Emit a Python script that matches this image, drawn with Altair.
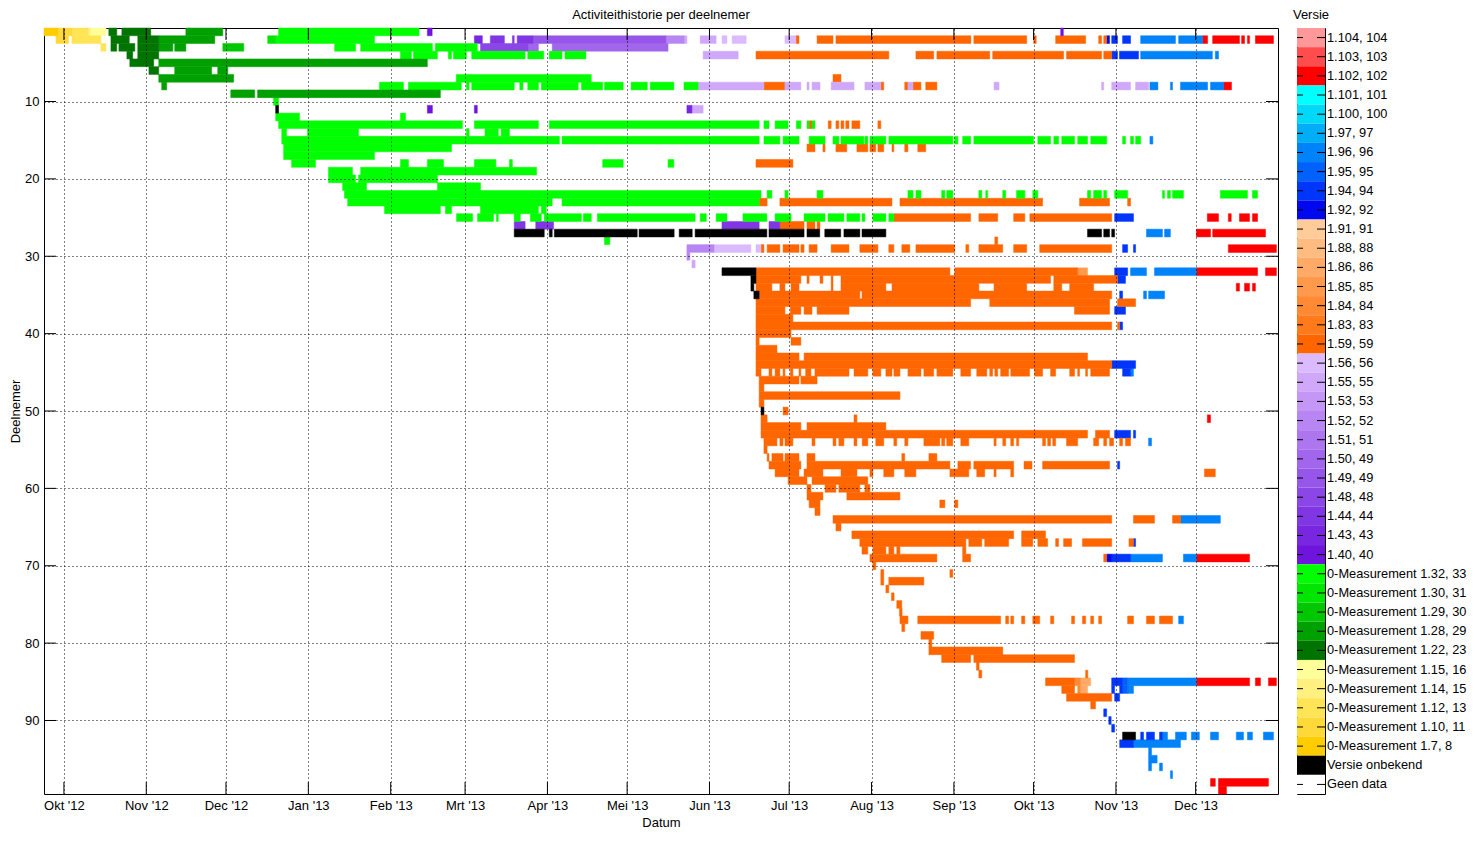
import altair as alt
import pandas as pd

FONT = "Liberation Sans"
BASE_DATE = pd.Timestamp("2012-10-01")   # day 0 of the segment lists

# ---- legend categories (top to bottom) and their colours ----
VERSIONS = [
    "1.104, 104", "1.103, 103", "1.102, 102", "1.101, 101", "1.100, 100",
    "1.97, 97", "1.96, 96", "1.95, 95", "1.94, 94", "1.92, 92",
    "1.91, 91", "1.88, 88", "1.86, 86", "1.85, 85", "1.84, 84", "1.83, 83",
    "1.59, 59", "1.56, 56", "1.55, 55", "1.53, 53", "1.52, 52", "1.51, 51",
    "1.50, 49", "1.49, 49", "1.48, 48", "1.44, 44", "1.43, 43", "1.40, 40",
    "0-Measurement 1.32, 33", "0-Measurement 1.30, 31", "0-Measurement 1.29, 30",
    "0-Measurement 1.28, 29", "0-Measurement 1.22, 23", "0-Measurement 1.15, 16",
    "0-Measurement 1.14, 15", "0-Measurement 1.12, 13", "0-Measurement 1.10, 11",
    "0-Measurement 1.7, 8", "Versie onbekend", "Geen data",
]
COLORS = [
    "#FF9898", "#FF4D4D", "#FF0000", "#00FFFF", "#00D8F8",
    "#00AEF8", "#0082F8", "#0062FA", "#0036FA", "#0008F0",
    "#FFCC99", "#FFBB80", "#FFAA66", "#FF9A4D", "#FF8A33", "#FF7A1A",
    "#FF6600", "#DCBAFF", "#D0A8FA", "#C496F5", "#B886F2", "#AD76EF",
    "#A166EC", "#9656E9", "#8B46E6", "#8036E3", "#7826E0", "#6E14DD",
    "#00FF00", "#00E600", "#00C800", "#00A000", "#007400", "#FFFF99",
    "#FFF080", "#FFE455", "#FFD83A", "#FFCC00", "#000000", "#FFFFFF",
]

# ---- axis tick values ----
TICK_MONTHS = [(2012, 10), (2012, 11), (2012, 12), (2013, 1), (2013, 2), (2013, 3),
               (2013, 4), (2013, 5), (2013, 6), (2013, 7), (2013, 8), (2013, 9),
               (2013, 10), (2013, 11), (2013, 12)]
MONTH_NAMES = ["Jan", "Feb", "Mrt", "Apr", "Mei", "Jun", "Jul", "Aug", "Sep", "Okt", "Nov", "Dec"]
Y_TICKS = [10, 20, 30, 40, 50, 60, 70, 80, 90]

# ---- activity segments per version: (participant, first day, end day), days since 2012-10-01 ----
V1_102 = [
    (2, 428.6, 430.5), (2, 432.4, 442.5), (2, 443.3, 444.4), (2, 445.5, 446.3), (2, 448.5, 455.3),
    (8, 436.5, 439.5),
    (25, 430.4, 434.6), (25, 438.3, 439.4), (25, 442.5, 446.3), (25, 447.4, 449.3),
    (27, 426.3, 431.6), (27, 432.4, 452.3),
    (29, 438.3, 456.4),
    (32, 426.3, 449.3), (32, 452.3, 456.4),
    (34, 441.3, 442.5), (34, 444.4, 446.3), (34, 447.4, 448.5),
    (51, 430.4, 431.6),
    (69, 426.3, 446.3),
    (85, 426.3, 446.3), (85, 448.5, 450.4), (85, 453.4, 456.4),
    (98, 431.6, 433.4), (98, 434.6, 453.4),
    (99, 434.6, 437.6),
]
V1_96 = [
    (2, 405.3, 418.4), (2, 419.6, 428.6),
    (4, 405.3, 432.3), (4, 433.4, 434.6),
    (8, 408.8, 411.8), (8, 416.5, 417.3), (8, 420.3, 430.5), (8, 431.6, 436.5),
    (15, 408.8, 409.9),
    (27, 407.5, 413.5), (27, 414.3, 416.5),
    (32, 401.5, 407.5), (32, 410.5, 426.3),
    (35, 406.4, 407.5), (35, 408.3, 414.3),
    (45, 401.5, 402.6),
    (54, 408.3, 409.4),
    (64, 420.3, 435.3),
    (69, 401.5, 413.5), (69, 421.4, 426.3),
    (77, 419.6, 421.4),
    (85, 400.4, 426.3),
    (86, 400.4, 402.6),
    (92, 413.5, 415.4), (92, 418.4, 422.5), (92, 424.4, 427.4), (92, 431.6, 434.6),
    (92, 441.3, 444.0), (92, 445.5, 447.4), (92, 451.5, 455.3),
    (93, 402.6, 420.3),
    (94, 408.3, 409.4), (95, 408.3, 411.5), (96, 408.3, 409.4), (96, 412.4, 413.5), (97, 416.5, 417.3),
]
V1_95 = [(85, 398.5, 400.4), (86, 398.5, 400.4)]
V1_94 = [
    (2, 394.4, 396.6), (2, 398.5, 401.5),
    (4, 394.4, 396.6), (4, 397.3, 404.5),
    (25, 395.5, 402.6),
    (29, 398.5, 400.4), (29, 402.6, 403.4),
    (32, 395.5, 400.4),
    (33, 396.6, 399.6),
    (35, 397.4, 398.5),
    (37, 395.5, 399.6),
    (39, 397.4, 398.5),
    (44, 394.4, 403.4),
    (45, 398.5, 401.5),
    (53, 395.5, 401.5), (53, 402.6, 403.4),
    (57, 396.6, 397.4),
    (67, 402.6, 403.4),
    (69, 394.4, 401.5),
    (85, 394.4, 398.5),
    (86, 394.4, 395.5), (86, 397.4, 398.5),
    (87, 395.5, 397.4),
    (89, 391.4, 392.5), (90, 393.3, 394.2), (91, 394.4, 395.5),
    (92, 405.3, 406.4), (92, 407.5, 410.5), (92, 412.4, 413.5),
    (93, 397.4, 402.6),
]
V1_92 = [(2, 392.5, 393.6), (69, 392.5, 394.4)]
V1_86 = [(85, 382.6, 386.5), (86, 382.6, 385.3)]
V1_85 = [(32, 381.6, 385.3)]
V1_84 = [(85, 380.4, 382.6), (86, 381.6, 382.6)]
V1_59 = [
    (2, 275.5, 276.7), (2, 283.5, 289.5), (2, 290.6, 341.4), (2, 342.5, 362.4), (2, 365.0, 366.0),
    (2, 373.3, 384.6), (2, 389.5, 390.6), (2, 391.4, 392.5),
    (4, 260.5, 310.5), (4, 320.7, 327.4), (4, 328.6, 348.5), (4, 349.6, 376.3), (4, 377.4, 390.6), (4, 391.4, 394.4),
    (7, 289.5, 292.5),
    (8, 263.5, 271.4), (8, 307.5, 308.6), (8, 316.5, 317.7), (8, 319.6, 322.6), (8, 324.4, 328.6),
    (13, 280.5, 281.6), (13, 287.7, 288.8), (13, 290.6, 291.7), (13, 292.5, 293.6), (13, 294.3, 295.5),
    (13, 296.6, 299.6), (13, 306.4, 307.5),
    (16, 279.7, 282.7), (16, 285.7, 286.5), (16, 290.6, 294.7), (16, 298.5, 302.6), (16, 303.4, 305.6),
    (16, 306.4, 308.6), (16, 311.7, 312.4), (16, 316.5, 317.7), (16, 321.4, 324.4),
    (18, 260.5, 274.4),
    (23, 261.7, 264.7), (23, 269.5, 311.7), (23, 314.7, 368.4), (23, 382.3, 393.6), (23, 400.4, 401.5),
    (25, 312.4, 341.3), (25, 344.4, 351.5), (25, 357.5, 361.7), (25, 363.6, 394.4),
    (26, 269.5, 278.6), (26, 279.7, 282.7), (26, 283.5, 284.6),
    (28, 350.4, 351.5),
    (29, 262.4, 263.5), (29, 264.7, 269.5), (29, 270.7, 276.7), (29, 277.4, 278.6), (29, 280.5, 283.5),
    (29, 288.8, 295.5), (29, 299.6, 306.4), (29, 310.5, 312.4), (29, 315.4, 318.4), (29, 320.7, 335.3),
    (29, 339.5, 340.6), (29, 344.4, 353.4), (29, 357.5, 362.4), (29, 367.3, 394.4),
    (32, 260.5, 333.5), (32, 335.3, 381.6),
    (33, 260.5, 277.4), (33, 279.7, 280.5), (33, 284.6, 285.7), (33, 288.8, 289.5), (33, 292.5, 371.4),
    (33, 372.6, 396.6),
    (34, 260.5, 266.5), (34, 269.5, 271.4), (34, 273.7, 276.7), (34, 288.8, 289.5), (34, 292.5, 309.4),
    (34, 311.7, 344.4), (34, 350.1, 362.4), (34, 372.6, 375.6), (34, 378.6, 387.6),
    (35, 261.7, 299.6), (35, 300.4, 394.4),
    (36, 260.5, 341.3), (36, 348.5, 393.6), (36, 396.6, 403.4),
    (37, 260.5, 271.4), (37, 273.4, 277.4), (37, 278.6, 281.6), (37, 283.5, 295.5), (37, 380.4, 393.6),
    (38, 260.5, 274.4),
    (39, 260.5, 394.4), (39, 396.6, 397.4),
    (40, 260.5, 273.7),
    (41, 260.5, 261.7), (41, 273.7, 277.4),
    (42, 260.5, 268.4),
    (43, 260.5, 276.7), (43, 278.6, 385.3),
    (44, 260.5, 394.4),
    (45, 260.5, 262.4), (45, 265.4, 266.5), (45, 267.7, 269.5), (45, 270.7, 271.4), (45, 273.4, 274.4),
    (45, 276.7, 277.4), (45, 279.2, 281.2), (45, 282.7, 295.5), (45, 297.4, 302.6), (45, 304.5, 307.5),
    (45, 309.4, 311.7), (45, 312.4, 314.7), (45, 317.7, 322.6), (45, 323.7, 327.4), (45, 328.6, 334.6),
    (45, 337.6, 341.3), (45, 343.6, 347.4), (45, 348.5, 349.6), (45, 350.4, 351.5), (45, 352.6, 355.6),
    (45, 356.4, 363.5), (45, 365.4, 368.4), (45, 371.4, 373.3), (45, 378.6, 380.4), (45, 381.6, 382.3),
    (45, 384.6, 385.3), (45, 386.5, 393.6),
    (46, 261.7, 276.7), (46, 277.4, 283.5),
    (47, 261.7, 263.5),
    (48, 261.7, 314.7),
    (49, 261.7, 263.5),
    (50, 270.7, 272.6),
    (51, 262.4, 264.7), (51, 297.4, 298.5),
    (52, 262.4, 277.4), (52, 279.7, 309.4),
    (53, 262.4, 385.3), (53, 388.3, 393.6),
    (54, 263.5, 268.4), (54, 269.5, 270.7), (54, 271.4, 274.4), (54, 281.6, 282.7), (54, 289.5, 290.6),
    (54, 291.7, 293.6), (54, 297.4, 298.5), (54, 300.5, 302.6), (54, 305.6, 308.6), (54, 312.4, 313.5),
    (54, 316.5, 317.7), (54, 323.7, 329.7), (54, 330.4, 331.6), (54, 332.3, 334.6), (54, 337.6, 340.6),
    (54, 350.1, 350.9), (54, 353.4, 354.5), (54, 356.4, 357.5), (54, 358.6, 359.4), (54, 368.4, 369.5),
    (54, 370.3, 371.4), (54, 372.2, 373.3), (54, 377.4, 381.6), (54, 387.6, 389.5), (54, 391.4, 392.5),
    (54, 393.6, 395.1), (54, 397.4, 398.5), (54, 399.6, 401.5),
    (55, 263.5, 264.7),
    (56, 264.7, 265.4), (56, 266.5, 270.7), (56, 271.4, 276.7), (56, 279.7, 282.7), (56, 315.4, 316.5),
    (56, 325.6, 328.6),
    (57, 265.4, 277.4), (57, 279.7, 333.5), (57, 336.5, 341.3), (57, 342.5, 357.5), (57, 361.4, 364.4),
    (57, 368.4, 393.6),
    (58, 267.7, 276.7), (58, 278.6, 285.7), (58, 292.5, 298.5), (58, 303.4, 304.5), (58, 308.6, 312.4),
    (58, 316.5, 320.7), (58, 333.5, 340.6), (58, 343.6, 346.6), (58, 350.1, 350.9), (58, 356.4, 357.5),
    (58, 429.3, 433.4),
    (59, 272.6, 279.7), (59, 281.6, 302.6),
    (60, 279.7, 281.2), (60, 286.5, 290.6), (60, 291.7, 299.6), (60, 301.5, 303.4),
    (61, 279.7, 285.7), (61, 294.7, 314.7),
    (62, 280.5, 284.6), (62, 329.7, 331.6), (62, 335.3, 336.5),
    (63, 282.7, 284.6),
    (64, 289.5, 394.4), (64, 402.6, 410.5), (64, 417.3, 420.3),
    (65, 290.6, 292.5),
    (66, 296.6, 357.5), (66, 360.5, 369.5),
    (67, 299.6, 339.5), (67, 340.6, 345.5), (67, 346.6, 355.6), (67, 360.5, 364.7), (67, 366.6, 370.3),
    (67, 373.3, 374.4), (67, 376.3, 379.3), (67, 383.4, 394.4), (67, 400.9, 402.6),
    (68, 300.4, 302.6), (68, 304.5, 309.4), (68, 310.5, 312.4), (68, 313.5, 314.7), (68, 338.3, 339.5),
    (69, 303.4, 328.6), (69, 338.3, 341.3), (69, 391.4, 392.5),
    (70, 304.5, 305.6),
    (71, 307.5, 308.6), (71, 333.5, 334.6),
    (72, 307.5, 308.6), (72, 310.5, 323.7),
    (73, 309.4, 310.5),
    (74, 311.5, 312.5),
    (75, 313.5, 315.4),
    (76, 314.5, 315.5),
    (77, 314.7, 317.7), (77, 321.4, 352.6), (77, 354.5, 355.6), (77, 356.4, 357.5), (77, 360.5, 361.7),
    (77, 364.7, 367.3), (77, 371.4, 372.6), (77, 379.3, 380.4), (77, 383.4, 384.6), (77, 386.5, 387.6),
    (77, 389.5, 390.6), (77, 400.4, 402.6), (77, 407.5, 410.5), (77, 412.4, 417.3),
    (78, 315.4, 316.5),
    (79, 322.6, 327.4),
    (80, 325.6, 326.7),
    (81, 325.6, 353.4),
    (82, 330.4, 341.3), (82, 342.5, 380.4),
    (83, 343.5, 344.5),
    (84, 344.4, 345.5), (84, 384.6, 385.4),
    (85, 369.5, 380.4),
    (86, 375.6, 380.4),
    (87, 377.4, 394.4),
    (88, 386.5, 388.3),
]
V1_56 = [(2, 247.7, 249.6), (2, 251.5, 256.8), (2, 271.4, 275.5), (29, 244.7, 258.6), (29, 260.5, 262.4)]
V1_55 = [
    (2, 233.4, 234.5), (2, 239.5, 245.5),
    (4, 240.6, 253.8),
    (8, 238.7, 263.5), (8, 271.4, 277.4), (8, 279.7, 280.5), (8, 281.6, 284.6), (8, 288.8, 297.4),
    (8, 301.5, 307.5), (8, 317.7, 319.6), (8, 350.1, 352.0), (8, 390.6, 391.4), (8, 394.4, 401.5),
    (8, 403.4, 408.3),
    (11, 236.4, 240.6),
    (31, 236.4, 237.6),
]
V1_52 = [(2, 226.6, 233.4), (29, 234.5, 244.7), (30, 234.5, 235.6)]
V1_50 = [(3, 174.8, 178.6), (3, 183.8, 227.4)]
V1_49 = [(2, 176.6, 226.6)]
V1_48 = [(3, 156.8, 174.8)]
V1_44 = [(2, 160.5, 165.8), (2, 168.8, 169.5), (2, 170.6, 176.6),
         (26, 169.5, 173.6), (26, 177.6, 184.3), (26, 247.7, 261.7), (26, 265.4, 269.5)]
V1_43 = [(2, 154.5, 157.5), (11, 234.5, 236.4)]
V1_40 = [(1, 136.8, 138.6), (1, 375.2, 376.2), (11, 136.8, 138.7), (11, 154.5, 155.6)]
M1_32 = [
    (1, 80.8, 133.7),
    (2, 79.7, 116.9),
    (3, 101.9, 109.8), (3, 111.7, 138.7), (3, 139.8, 155.6),
    (4, 126.7, 130.8), (4, 131.6, 140.6), (4, 144.7, 145.9), (4, 146.6, 151.5), (4, 153.5, 173.6),
    (4, 174.6, 180.6), (4, 182.7, 187.5), (4, 188.6, 196.5),
    (7, 147.7, 198.5),
    (8, 118.8, 127.8), (8, 129.7, 149.6), (8, 151.5, 152.5), (8, 153.5, 169.5), (8, 171.6, 172.8),
    (8, 174.6, 178.6), (8, 179.7, 193.6), (8, 194.8, 202.8), (8, 203.5, 210.5), (8, 213.5, 219.6),
    (8, 220.7, 229.6), (8, 233.4, 238.7),
    (10, 78.9, 80.8),
    (12, 79.7, 88.7), (12, 126.7, 128.6),
    (13, 80.8, 150.0), (13, 154.5, 178.6), (13, 182.7, 261.7), (13, 263.5, 265.4), (13, 267.7, 272.6),
    (13, 275.7, 277.4), (13, 279.7, 280.5), (13, 281.6, 282.7),
    (14, 82.0, 83.8), (14, 91.7, 110.9), (14, 151.5, 152.5), (14, 158.5, 163.5), (14, 164.6, 167.7),
    (15, 82.0, 186.5), (15, 187.5, 261.7), (15, 263.5, 269.5), (15, 270.7, 276.7), (15, 280.5, 286.5),
    (15, 289.5, 291.7), (15, 292.5, 301.1), (15, 301.5, 302.6), (15, 303.4, 309.4), (15, 310.5, 334.6),
    (15, 335.3, 336.5), (15, 338.3, 341.3), (15, 342.5, 365.0), (15, 366.6, 371.4), (15, 372.6, 374.4),
    (15, 375.6, 380.4), (15, 381.6, 385.3), (15, 386.5, 392.5), (15, 398.5, 399.6), (15, 401.5, 402.6),
    (15, 403.4, 405.3),
    (16, 82.7, 145.9),
    (17, 82.7, 116.9),
    (18, 85.7, 94.7), (18, 126.7, 129.7), (18, 136.8, 142.9), (18, 154.5, 162.6), (18, 167.7, 168.8),
    (18, 202.8, 210.5), (18, 227.4, 229.6),
    (19, 99.6, 108.6), (19, 111.7, 177.9),
    (20, 99.6, 109.8), (20, 110.9, 140.6),
    (21, 104.9, 113.9), (21, 140.6, 156.8),
    (22, 105.6, 262.4), (22, 264.7, 266.5), (22, 271.4, 272.6), (22, 283.5, 285.7), (22, 317.7, 319.6),
    (22, 320.7, 322.6), (22, 330.4, 331.6), (22, 332.3, 334.6), (22, 344.4, 345.5), (22, 347.0, 347.7),
    (22, 353.4, 354.5), (22, 358.6, 361.7), (22, 364.7, 366.6), (22, 385.3, 386.5), (22, 387.6, 390.6),
    (22, 391.4, 392.5), (22, 395.5, 400.4), (22, 413.5, 414.3), (22, 415.4, 416.5), (22, 417.3, 421.4),
    (22, 435.3, 445.5), (22, 447.4, 449.3),
    (23, 106.8, 183.8), (23, 187.5, 261.7),
    (24, 120.7, 141.7), (24, 143.6, 145.9), (24, 156.8, 178.6), (24, 179.7, 181.6),
    (25, 147.8, 153.8), (25, 155.7, 161.7), (25, 162.8, 163.5), (25, 169.5, 171.8), (25, 175.6, 179.7),
    (25, 180.8, 194.8), (25, 195.5, 198.5), (25, 200.8, 237.6), (25, 239.5, 241.8), (25, 245.5, 249.6),
    (25, 255.6, 264.6), (25, 267.7, 273.7), (25, 278.6, 286.5), (25, 287.6, 293.6), (25, 294.7, 299.6),
    (25, 300.4, 301.5), (25, 304.5, 309.4), (25, 310.5, 312.4),
    (28, 203.5, 205.5),
]
M1_30 = [(2, 76.7, 79.7)]
M1_29 = [(3, 59.8, 67.7)]
M1_28 = [(1, 45.9, 59.8), (2, 35.7, 56.8), (3, 35.7, 41.0), (3, 41.7, 45.9), (5, 35.7, 136.8),
         (6, 41.7, 55.6), (6, 57.9, 61.7), (7, 35.7, 63.9), (8, 36.8, 38.7), (9, 62.8, 71.8),
         (9, 72.9, 141.7)]
M1_22 = [(1, 16.9, 19.9), (1, 21.8, 32.7), (2, 17.7, 24.6), (2, 27.8, 35.7), (3, 17.7, 19.9),
         (3, 20.7, 26.7), (3, 27.8, 35.7), (4, 23.7, 25.9), (4, 27.8, 35.7), (5, 24.8, 33.8),
         (6, 32.0, 35.7)]
M1_15 = [(1, 9.9, 15.8)]
M1_14 = [(1, 9.0, 9.9)]
M1_12 = [(1, 3.0, 9.0), (2, 3.0, 13.9), (3, 13.9, 15.8)]
M1_10 = [(1, -2.25, 3.0), (2, -3.0, 1.75)]
M1_7 = [(1, -7.5, -2.25)]
UNKNOWN = [
    (11, 79.7, 80.8),
    (27, 169.5, 180.8), (27, 182.7, 183.8), (27, 184.6, 215.8), (27, 216.5, 229.7), (27, 231.6, 236.5),
    (27, 237.6, 264.6), (27, 265.4, 278.6), (27, 279.7, 284.5), (27, 286.4, 292.4), (27, 293.6, 299.6),
    (27, 300.4, 309.4), (27, 385.3, 390.6), (27, 391.4, 393.6), (27, 394.4, 395.5),
    (32, 247.7, 260.5),
    (33, 258.6, 260.5),
    (34, 258.6, 259.7),
    (35, 259.7, 261.7),
    (50, 262.4, 263.5),
    (92, 398.5, 403.4),
]

SERIES = [
    ("1.102, 102", V1_102), ("1.96, 96", V1_96), ("1.95, 95", V1_95), ("1.94, 94", V1_94),
    ("1.92, 92", V1_92), ("1.86, 86", V1_86), ("1.85, 85", V1_85), ("1.84, 84", V1_84),
    ("1.59, 59", V1_59), ("1.56, 56", V1_56), ("1.55, 55", V1_55), ("1.52, 52", V1_52),
    ("1.50, 49", V1_50), ("1.49, 49", V1_49), ("1.48, 48", V1_48), ("1.44, 44", V1_44),
    ("1.43, 43", V1_43), ("1.40, 40", V1_40),
    ("0-Measurement 1.32, 33", M1_32), ("0-Measurement 1.30, 31", M1_30),
    ("0-Measurement 1.29, 30", M1_29), ("0-Measurement 1.28, 29", M1_28),
    ("0-Measurement 1.22, 23", M1_22), ("0-Measurement 1.15, 16", M1_15),
    ("0-Measurement 1.14, 15", M1_14), ("0-Measurement 1.12, 13", M1_12),
    ("0-Measurement 1.10, 11", M1_10), ("0-Measurement 1.7, 8", M1_7),
    ("Versie onbekend", UNKNOWN),
]

records = []
for name, segs in SERIES:
    for p, s, e in segs:
        records.append({
            "deelnemer": p, "y0": p - 0.5, "y1": p + 0.5,
            "start": BASE_DATE + pd.Timedelta(days=s),
            "end": BASE_DATE + pd.Timedelta(days=e),
            "versie": name,
        })
cells = pd.DataFrame(records)

W, H = 1234, 766
color_scale = alt.Scale(domain=VERSIONS, range=COLORS)
x_scale = alt.Scale(domain=[alt.DateTime(year=2012, month=9, date=23, hours=12),
                            alt.DateTime(year=2014, month=1, date=1)], nice=False)
y_scale = alt.Scale(domain=[0.5, 99.5], reverse=True, nice=False, zero=False)

label_expr = ("[" + ",".join(f"'{m}'" for m in MONTH_NAMES) + "][month(datum.value)]"
              " + \" '\" + timeFormat(datum.value, '%y')")
tick_dates = [alt.DateTime(year=y, month=m, date=1) for y, m in TICK_MONTHS]

common_axis = dict(grid=True, gridDash=[1, 3], gridColor="black", gridOpacity=1, gridWidth=1,
                   ticks=False, domain=False, zindex=1, labelFont=FONT, titleFont=FONT,
                   labelFontSize=13, titleFontSize=13, labelColor="black", titleColor="black",
                   titleFontWeight="normal")
x_axis = alt.Axis(values=tick_dates, labelExpr=label_expr, title="Datum", labelPadding=5,
                  titlePadding=4, labelFlush=False, labelOverlap=False, **common_axis)
y_axis = alt.Axis(values=Y_TICKS, title="Deelnemer", labelPadding=5, titlePadding=2.5, **common_axis)

rects = alt.Chart(cells).mark_rect(strokeWidth=0.5).encode(
    x=alt.X("start:T", scale=x_scale, axis=x_axis),
    x2="end:T",
    y=alt.Y("y0:Q", scale=y_scale, axis=y_axis),
    y2="y1:Q",
    color=alt.Color("versie:N", scale=color_scale, legend=None),
    stroke=alt.Stroke("versie:N", scale=color_scale, legend=None),
)

ytick_df = pd.DataFrame({"v": Y_TICKS})
xtick_df = pd.DataFrame({"d": [pd.Timestamp(y, m, 1) for y, m in TICK_MONTHS]})

ytl = alt.Chart(ytick_df).mark_rule(color="black").encode(
    y=alt.Y("v:Q", scale=y_scale, axis=y_axis), x=alt.value(0), x2=alt.value(12))
ytr = alt.Chart(ytick_df).mark_rule(color="black").encode(
    y=alt.Y("v:Q", scale=y_scale, axis=y_axis), x=alt.value(W - 12), x2=alt.value(W))
xtb = alt.Chart(xtick_df).mark_rule(color="black").encode(
    x=alt.X("d:T", scale=x_scale, axis=x_axis), y=alt.value(H - 12), y2=alt.value(H))
xtt = alt.Chart(xtick_df).mark_rule(color="black").encode(
    x=alt.X("d:T", scale=x_scale, axis=x_axis), y=alt.value(0), y2=alt.value(12))

main = alt.layer(rects, ytl, ytr, xtb, xtt).properties(
    width=W, height=H,
    title=alt.TitleParams("Activiteithistorie per deelnemer", anchor="middle", frame="group",
                          offset=6, fontSize=13, fontWeight="normal", font=FONT, color="black"),
)

# ---- colour bar legend ----
leg_df = pd.DataFrame({"versie": VERSIONS})
band = alt.Scale(domain=VERSIONS, paddingInner=0, paddingOuter=0)
bar = alt.Chart(leg_df).mark_rect().encode(
    y=alt.Y("versie:N", scale=band, axis=None, sort=VERSIONS),
    x=alt.value(0), x2=alt.value(28),
    color=alt.Color("versie:N", scale=color_scale, legend=None),
)
ltick_l = alt.Chart(leg_df).mark_rule(color="black").encode(
    y=alt.Y("versie:N", scale=band, axis=None, sort=VERSIONS, bandPosition=0.5),
    x=alt.value(0), x2=alt.value(6))
ltick_r = alt.Chart(leg_df).mark_rule(color="black").encode(
    y=alt.Y("versie:N", scale=band, axis=None, sort=VERSIONS, bandPosition=0.5),
    x=alt.value(20), x2=alt.value(28))
ltext = alt.Chart(leg_df).mark_text(align="left", baseline="middle", fontSize=12.8, font=FONT,
                                    color="black").encode(
    y=alt.Y("versie:N", scale=band, axis=None, sort=VERSIONS, bandPosition=0.5),
    x=alt.value(30), text="versie:N")

legend = alt.layer(bar, ltick_l, ltick_r, ltext).properties(
    width=28, height=H,
    title=alt.TitleParams("Versie", anchor="middle", frame="group", offset=6, fontSize=13,
                          fontWeight="normal", font=FONT, color="black"),
)

chart = alt.hconcat(main, legend, spacing=13).properties(
    padding={"left": 0, "top": 0, "right": 0, "bottom": 0}
).configure(font=FONT).configure_view(stroke="black", strokeWidth=1)

chart.save("out.html", embed_options={"renderer": "svg", "actions": False})
